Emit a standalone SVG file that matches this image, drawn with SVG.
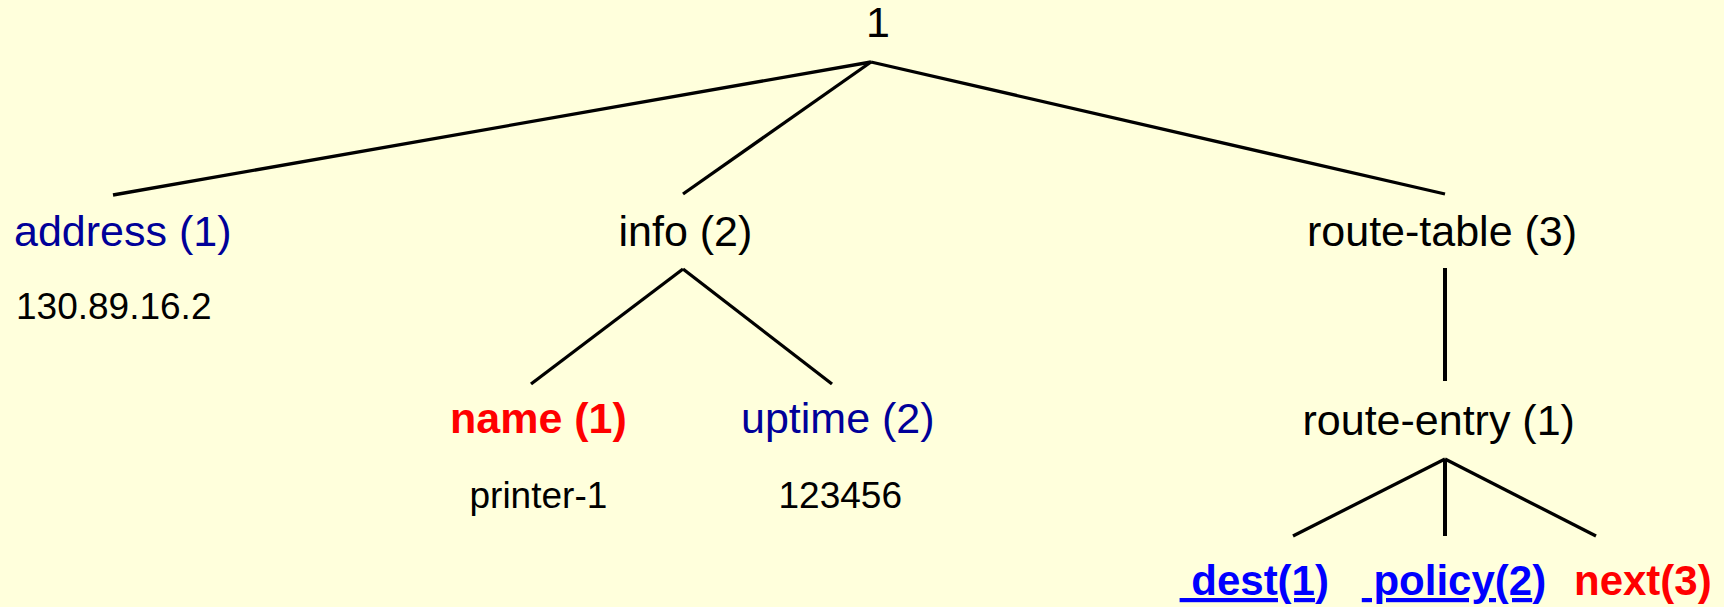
<svg xmlns="http://www.w3.org/2000/svg" width="1724" height="607" viewBox="0 0 1724 607">
  <style>
    .lbl { font-family: "Liberation Sans", Arial, sans-serif; font-size: 43px; fill: #000000; }
    .val { font-family: "Liberation Sans", Arial, sans-serif; font-size: 37px; fill: #000000; }
    .navy { fill: #000099; }
    .red { fill: #FF0000; font-weight: bold; }
    .link { fill: #0000FF; font-weight: bold; }
    .leaf { font-size: 42px; }
    .edge { stroke: #000000; stroke-width: 3.3; fill: none; stroke-linecap: butt; }
    .vedge { stroke: #000000; stroke-width: 4; fill: none; }
  </style>
  <rect x="0" y="0" width="1724" height="607" fill="#FFFFDC"/>

  <g id="connectors">
    <line class="edge" x1="871" y1="62" x2="113" y2="195"/>
    <line class="edge" x1="871" y1="62" x2="683" y2="194"/>
    <line class="edge" x1="871" y1="62" x2="1445" y2="194"/>
    <line class="edge" x1="683" y1="269" x2="531" y2="384"/>
    <line class="edge" x1="683" y1="269" x2="832" y2="384"/>
    <line class="vedge" x1="1445" y1="268" x2="1445" y2="381"/>
    <line class="edge" x1="1445" y1="459" x2="1293" y2="536"/>
    <line class="vedge" x1="1445" y1="459" x2="1445" y2="536"/>
    <line class="edge" x1="1445" y1="459" x2="1596" y2="536"/>
  </g>

  <g id="node-root">
    <text class="lbl" x="878" y="37" text-anchor="middle">1</text>
  </g>
  <g id="node-address">
    <text class="lbl navy" x="14" y="246">address (1)</text>
    <text class="val" x="16" y="319">130.89.16.2</text>
  </g>
  <g id="node-info">
    <text class="lbl" x="618.5" y="246">info (2)</text>
  </g>
  <g id="node-route-table">
    <text class="lbl" x="1307" y="246">route-table (3)</text>
  </g>
  <g id="node-name">
    <text class="lbl red" x="450" y="433">name (1)</text>
    <text class="val" x="469.5" y="508">printer-1</text>
  </g>
  <g id="node-uptime">
    <text class="lbl navy" x="741" y="433">uptime (2)</text>
    <text class="val" x="778.5" y="508">123456</text>
  </g>
  <g id="node-route-entry">
    <text class="lbl" x="1302.5" y="435">route-entry (1)</text>
  </g>
  <g id="node-dest">
    <text class="lbl link leaf" x="1179.6" y="595" xml:space="preserve"><tspan text-decoration="underline"> dest(1</tspan>)</text>
  </g>
  <g id="node-policy">
    <text class="lbl link leaf" x="1361.8" y="595" xml:space="preserve"><tspan text-decoration="underline"> policy(2</tspan>)</text>
  </g>
  <g id="node-next">
    <text class="lbl red leaf" x="1574" y="595">next(3)</text>
  </g>
</svg>
